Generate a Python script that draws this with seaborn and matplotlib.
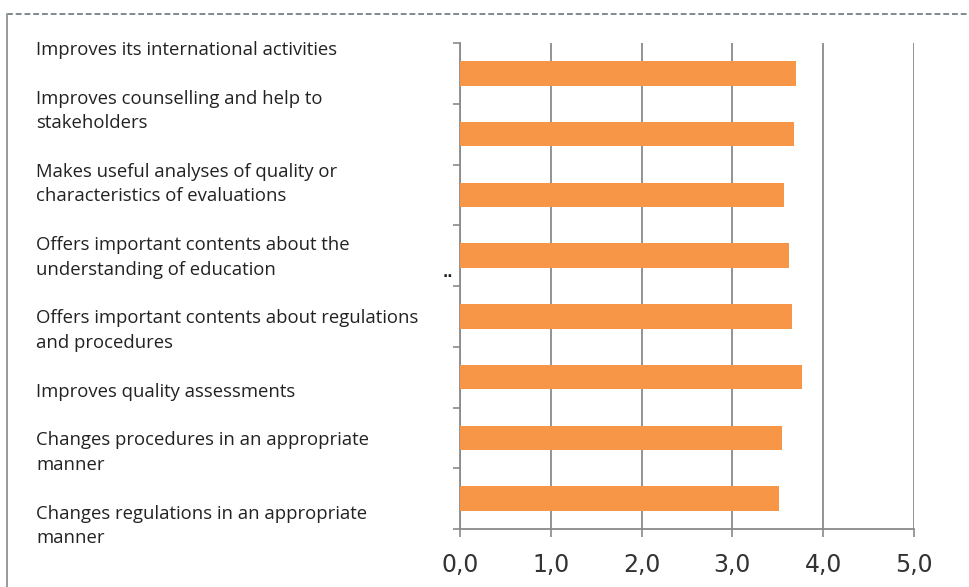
import matplotlib
matplotlib.use("Agg")
import matplotlib.pyplot as plt
from matplotlib.lines import Line2D
import seaborn as sns
import pandas as pd

# Survey statements (wrapped as they appear in the label column)
statements = [
    "Improves its international activities",
    "Improves counselling and help to\nstakeholders",
    "Makes useful analyses of quality or\ncharacteristics of evaluations",
    "Offers important contents about the\nunderstanding of education",
    "Offers important contents about regulations\nand procedures",
    "Improves quality assessments",
    "Changes procedures in an appropriate\nmanner",
    "Changes regulations in an appropriate\nmanner",
]
mean_scores = [3.70, 3.68, 3.57, 3.62, 3.66, 3.77, 3.55, 3.51]
x_ticks = [0, 1, 2, 3, 4, 5]
x_tick_labels = ["0,0", "1,0", "2,0", "3,0", "4,0", "5,0"]

W, H = 970, 587
DPI = 100
BAR_COLOR = "#F79646"
GRID_COLOR = "#8a8a8a"

sns.set_theme(style="white")
plt.rcParams["font.family"] = ["DejaVu Sans"]

fig = plt.figure(figsize=(W / DPI, H / DPI), dpi=DPI)
fig.patch.set_facecolor("white")

# axes box in pixel terms: left 460, right 914, top 43, bottom 529
ax = fig.add_axes([460 / W, 1 - 529 / H, (914 - 460) / W, (529 - 43) / H])

df = pd.DataFrame({"statement": statements, "score": mean_scores})
sns.barplot(data=df, y="statement", x="score", orient="h",
            color=BAR_COLOR, saturation=1, width=0.4, linewidth=0,
            ax=ax, zorder=3)

ax.set_xlim(0, 5)
ax.set_ylim(len(statements) - 0.5, -0.5)
ax.set_xlabel("")
ax.set_ylabel("")

# vertical gridlines behind the bars
ax.set_axisbelow(True)
ax.xaxis.grid(True, color=GRID_COLOR, linewidth=1.3)
ax.yaxis.grid(False)

ax.set_xticks(x_ticks)
ax.set_xticklabels(x_tick_labels, fontsize=17, color="#333333")
ax.tick_params(axis="x", direction="out", length=6, width=1.2,
               color=GRID_COLOR, pad=11, bottom=True)

# y ticks sit on category boundaries, no text on them
ax.set_yticks([i - 0.5 for i in range(len(statements) + 1)])
ax.set_yticklabels([])
ax.tick_params(axis="y", direction="out", length=5, width=1.2,
               color=GRID_COLOR, left=True)

for side in ["top", "right"]:
    ax.spines[side].set_visible(False)
for side in ["left", "bottom"]:
    ax.spines[side].set_visible(True)
    ax.spines[side].set_color(GRID_COLOR)
    ax.spines[side].set_linewidth(1.3)

# statement column on the left: one line every 24.4 px, a blank line between items
px = lambda x, y: (x / W, 1 - y / H)
line_step = 24.4
y_line = 50.0
for text in statements:
    for line in text.split("\n"):
        fig.text(*px(36, y_line), line, ha="left", va="center",
                 fontsize=13.3, color="#222222", family=["Open Sans", "DejaVu Sans"])
        y_line += line_step
    y_line += line_step

fig.text(*px(448, 277), "··", ha="center", va="center", fontsize=10,
         color="#222222", fontweight="bold")

# outer frame: dashed top rule and solid left rule
fig.add_artist(Line2D([7 / W, 1.0], [1 - 14 / H, 1 - 14 / H], color="#7f8a90",
                      linewidth=1.4, linestyle=(0, (3, 1.5)), transform=fig.transFigure))
fig.add_artist(Line2D([7 / W, 7 / W], [0.0, 1 - 14 / H], color="#9a9a9a",
                      linewidth=1.4, transform=fig.transFigure))

fig.savefig("out.png", dpi=DPI, facecolor="white")
